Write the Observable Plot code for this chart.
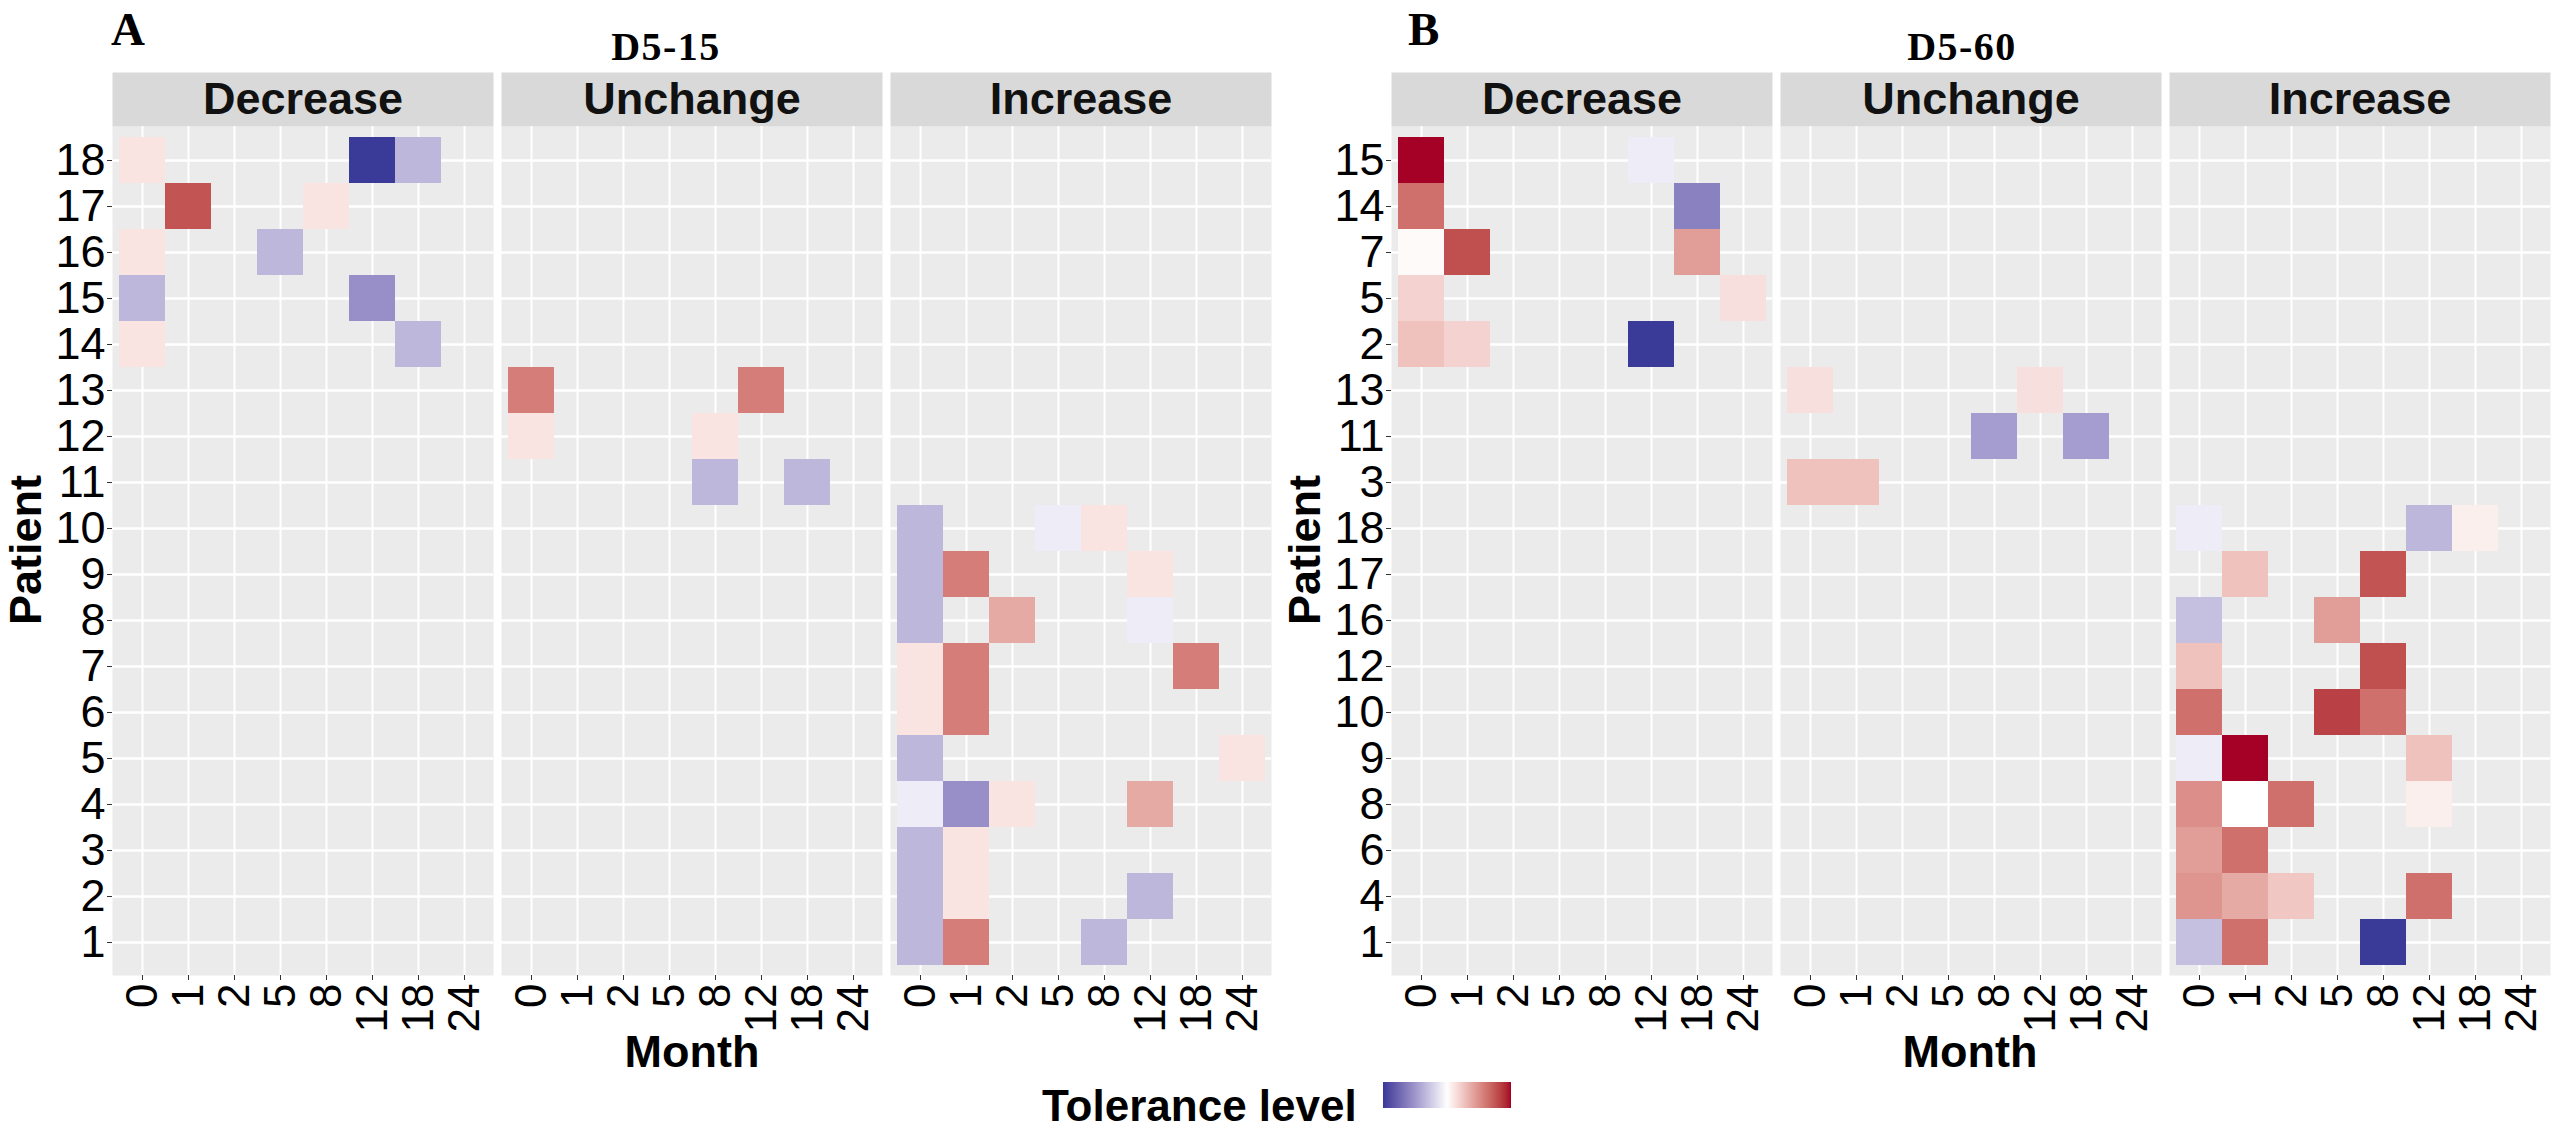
<!DOCTYPE html>
<html>
<head>
<meta charset="utf-8">
<script src="https://cdn.jsdelivr.net/npm/d3@7"></script>
<script src="https://cdn.jsdelivr.net/npm/@observablehq/plot@0.6"></script>
<style>
  body { margin: 0; background: #ffffff; }
  #root { position: relative; width: 2552px; height: 1129px; overflow: hidden; background: #fff; }
  #root > svg, #root > div { position: absolute; }
</style>
</head>
<body>
<div id="root"></div>
<script>
// ---------- shared categories ----------
const months = ["0", "1", "2", "5", "8", "12", "18", "24"];
const groups = ["Decrease", "Unchange", "Increase"];

// ---------- Panel A : D5-15 ----------
const aDecrease = [18, 17, 16, 15, 14];
const aUnchange = [13, 12, 11];
const aIncrease = [10, 9, 8, 7, 6, 5, 4, 3, 2, 1];
const aPatient = [18,18,18, 17,17, 16,16, 15,15, 14,14, 13,13, 12,12, 11,11,
                  10,10,10, 9,9,9, 8,8,8, 7,7,7, 6,6, 5,5, 4,4,4,4, 3,3, 2,2,2, 1,1,1];
const aMonth = ["0","12","18", "1","8", "0","5", "0","12", "0","18", "0","12", "0","8", "8","18",
                "0","5","8", "0","1","12", "0","2","12", "0","1","18", "0","1", "0","24",
                "0","1","2","12", "0","1", "0","1","12", "0","1","8"];
const aLevel = [0.12,-1,-0.34, 0.76,0.12, 0.12,-0.34, -0.34,-0.54, 0.12,-0.34, 0.58,0.58, 0.12,0.12, -0.34,-0.34,
                -0.34,-0.09,0.12, -0.34,0.58,0.12, -0.34,0.38,-0.09, 0.12,0.58,0.58, 0.12,0.58, -0.34,0.12,
                -0.09,-0.54,0.12,0.38, -0.34,0.12, -0.34,0.12,-0.34, -0.34,0.58,-0.34];

// ---------- Panel B : D5-60 ----------
const bDecrease = [15, 14, 7, 5, 2];
const bUnchange = [13, 11, 3];
const bIncrease = [18, 17, 16, 12, 10, 9, 8, 6, 4, 1];
const bPatient = [15,15, 14,14, 7,7,7, 5,5, 2,2,2, 13,13, 11,11, 3,3,
                  18,18,18, 17,17, 16,16, 12,12, 10,10,10, 9,9,9, 8,8,8,8, 6,6, 4,4,4,4, 1,1,1];
const bMonth = ["0","12", "0","18", "0","1","18", "0","24", "0","1","12", "0","12", "8","18", "0","1",
                "0","12","18", "1","8", "0","5", "0","8", "0","5","8", "0","1","12", "0","1","2","12",
                "0","1", "0","1","2","12", "0","1","8"];
const bLevel = [1.0,-0.09, 0.64,-0.61, 0.02,0.78,0.44, 0.2,0.14, 0.27,0.2,-1, 0.14,0.14, -0.47,-0.47, 0.27,0.27,
                -0.09,-0.34,0.07, 0.27,0.76, -0.3,0.44, 0.27,0.78, 0.64,0.84,0.64, -0.09,1.0,0.27, 0.5,0,0.64,0.07,
                0.44,0.64, 0.48,0.38,0.25,0.64, -0.3,0.64,-1];

// ---------- colour scale (diverging, ggplot gradient2-like) ----------
const levelDomain = [-1, 0, 1];
const levelColors = ["#3a3a98", "#ffffff", "#a50026"];
const colorScale = { type: "linear", domain: levelDomain, range: levelColors, interpolate: d3.interpolateLab };

const sans = "'Liberation Sans', Arial, Helvetica, sans-serif";
const serif = "'Liberation Serif', 'Times New Roman', serif";

function panel(dec, unc, inc, pats, mons, levs, ml, mr) {
  const order = [...dec, ...unc, ...inc].map(String);
  const groupOf = p => dec.includes(p) ? "Decrease" : unc.includes(p) ? "Unchange" : "Increase";
  const tiles = pats.map((p, i) => ({ patient: String(p), month: mons[i], level: levs[i], group: groupOf(p) }));
  const W = 1276, H = 1080, mt = 126, mb = 105;
  const innerH = H - mt - mb;
  return Plot.plot({
    width: W, height: H,
    marginTop: mt, marginBottom: mb, marginLeft: ml, marginRight: mr,
    style: { fontFamily: sans, color: "#000", background: "transparent", overflow: "visible" },
    fx: { domain: groups, paddingInner: 0.021, paddingOuter: 0, axis: null, label: null },
    x: { domain: months, paddingInner: 0, paddingOuter: 0.1, label: null },
    y: { domain: order, paddingInner: 0, paddingOuter: 0.1, label: null },
    color: colorScale,
    marks: [
      Plot.frame({ fill: "#ebebeb" }),
      Plot.frame({ fill: "#d9d9d9", insetTop: -54, insetBottom: innerH }),
      Plot.gridX({ stroke: "#ffffff", strokeOpacity: 1, strokeWidth: 2 }),
      Plot.gridY({ stroke: "#ffffff", strokeOpacity: 1, strokeWidth: 2.6 }),
      Plot.cell(tiles, { x: "month", y: "patient", fx: "group", fill: "level", inset: 0 }),
      Plot.text(groups, { fx: d => d, text: d => d, frameAnchor: "top", dy: -27, lineAnchor: "middle",
                          fontSize: 45, fontWeight: "bold", fill: "#111" }),
      Plot.axisY({ tickSize: 5, tickPadding: 2, fontSize: 45, label: null, stroke: "#333" }),
      Plot.axisX({ tickSize: 5, tickPadding: 3, tickRotate: -90, fontSize: 44, label: null, stroke: "#333" })
    ]
  });
}

const root = document.getElementById("root");

const svgA = panel(aDecrease, aUnchange, aIncrease, aPatient, aMonth, aLevel, 111, 4);
svgA.style.left = "0px"; svgA.style.top = "0px";
root.appendChild(svgA);

const svgB = panel(bDecrease, bUnchange, bIncrease, bPatient, bMonth, bLevel, 114, 2);
svgB.style.left = "1276px"; svgB.style.top = "0px";
root.appendChild(svgB);

// legend colour bar
const leg = Plot.legend({
  color: colorScale, width: 128, height: 26,
  marginTop: 0, marginBottom: 0, marginLeft: 0, marginRight: 0,
  ticks: 0, tickSize: 0, label: null, tickFormat: () => ""
});
const legWrap = document.createElement("div");
legWrap.style.left = "1383px"; legWrap.style.top = "1082px";
legWrap.appendChild(leg);
root.appendChild(legWrap);

// overlay text: panel tags, titles, axis titles, legend title
const ov = d3.select(root).append("svg")
  .attr("width", 2552).attr("height", 1129)
  .style("left", "0px").style("top", "0px").style("pointer-events", "none");

const tags = [
  { t: "A", x: 111, y: 45, size: 47, font: serif, anchor: "start", ls: 0 },
  { t: "B", x: 1408, y: 45, size: 47, font: serif, anchor: "start", ls: 0 },
  { t: "D5-15", x: 666, y: 60, size: 40, font: serif, anchor: "middle", ls: 1.5 },
  { t: "D5-60", x: 1962, y: 60, size: 40, font: serif, anchor: "middle", ls: 1.5 },
  { t: "Month", x: 692, y: 1067, size: 45, font: sans, anchor: "middle", ls: 0 },
  { t: "Month", x: 1970, y: 1067, size: 45, font: sans, anchor: "middle", ls: 0 },
  { t: "Tolerance level", x: 1042, y: 1121, size: 44, font: sans, anchor: "start", ls: 0 }
];
ov.selectAll("text.tag").data(tags).join("text")
  .attr("class", "tag")
  .attr("x", d => d.x).attr("y", d => d.y)
  .attr("text-anchor", d => d.anchor)
  .attr("font-family", d => d.font).attr("font-size", d => d.size)
  .attr("font-weight", "bold").attr("letter-spacing", d => d.ls)
  .attr("fill", "#000")
  .text(d => d.t);

const yTitles = [{ x: 41, y: 550 }, { x: 1320, y: 550 }];
ov.selectAll("text.ytitle").data(yTitles).join("text")
  .attr("class", "ytitle")
  .attr("transform", d => `translate(${d.x},${d.y}) rotate(-90)`)
  .attr("text-anchor", "middle")
  .attr("font-family", sans).attr("font-size", 45).attr("font-weight", "bold")
  .attr("fill", "#000")
  .text("Patient");
</script>
</body>
</html>
